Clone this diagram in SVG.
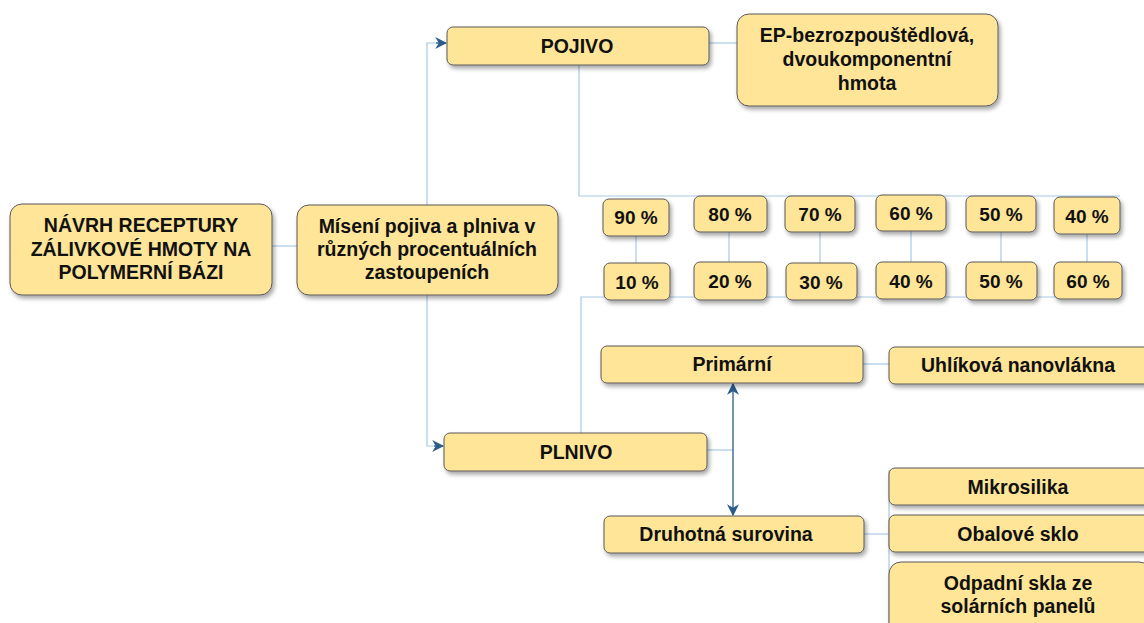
<svg xmlns="http://www.w3.org/2000/svg" width="1144" height="623" viewBox="0 0 1144 623">
  <defs>
    <filter id="shadow" x="-10%" y="-20%" width="130%" height="160%">
      <feDropShadow dx="2" dy="3" stdDeviation="2" flood-color="#000" flood-opacity="0.35"/>
    </filter>
    <marker id="arrow" viewBox="0 0 10 10" refX="9" refY="5" markerWidth="12" markerHeight="12" markerUnits="userSpaceOnUse" orient="auto-start-reverse">
      <path d="M0,0 L10,5 L0,10 L3,5 z" fill="#2B5C8A"/>
    </marker>
    <style>
      .box { fill: #FFE597; stroke: #5A5A5A; stroke-width: 1; filter: url(#shadow); }
      .t { font-family: "Liberation Sans", Arial, sans-serif; font-weight: bold; font-size: 19.5px; fill: #111; text-anchor: middle; }
      .pc { font-size: 19px; }
      .link { fill: none; stroke: #A9C9E8; stroke-width: 1.2; }
      .arr { fill: none; stroke: #2B5C8A; stroke-width: 1.3; }
    </style>
  </defs>

  <rect width="1144" height="623" fill="#fff"/>

  <!-- connectors -->
  <g id="connectors">
    <line class="link" x1="272" y1="246" x2="297" y2="246"/>
    <!-- Mísení to POJIVO / PLNIVO -->
    <path class="link" d="M427,205 V43 H438"/>
    <path class="arr" d="M436,43 H446" marker-end="url(#arrow)"/>
    <path class="link" d="M427,295 V446 H436"/>
    <path class="arr" d="M434,446 H443" marker-end="url(#arrow)"/>
    <!-- POJIVO to EP -->
    <line class="link" x1="709" y1="43" x2="737" y2="43"/>
    <!-- POJIVO to top percent row -->
    <path class="link" d="M579,65 V196 H1120"/>
    <!-- PLNIVO to bottom percent row -->
    <path class="link" d="M581,433 V297 H1120"/>
    <!-- percent pairs -->
    <line class="link" x1="636" y1="236" x2="636" y2="263"/>
    <line class="link" x1="729" y1="232" x2="729" y2="262"/>
    <line class="link" x1="820" y1="232" x2="820" y2="263"/>
    <line class="link" x1="911" y1="231" x2="911" y2="262"/>
    <line class="link" x1="1001" y1="232" x2="1001" y2="262"/>
    <line class="link" x1="1087" y1="234" x2="1087" y2="262"/>
    <!-- PLNIVO to Primární / Druhotná -->
    <line class="link" x1="707" y1="450" x2="733" y2="450"/>
    <line class="arr" x1="733" y1="450" x2="733" y2="384" marker-end="url(#arrow)"/>
    <line class="arr" x1="733" y1="450" x2="733" y2="515" marker-end="url(#arrow)"/>
    <!-- Primární to Uhlíková -->
    <line class="link" x1="863" y1="364" x2="889" y2="364"/>
    <!-- Druhotná to recycled materials -->
    <line class="link" x1="864" y1="534" x2="889" y2="534"/>
    <line class="link" x1="889" y1="470" x2="889" y2="623"/>
  </g>

  <g id="navrh">
    <rect class="box" x="10" y="204" width="262" height="91" rx="12"/>
    <text class="t" x="141" y="232">NÁVRH RECEPTURY</text>
    <text class="t" x="141" y="256">ZÁLIVKOVÉ HMOTY NA</text>
    <text class="t" x="141" y="279">POLYMERNÍ BÁZI</text>
  </g>

  <g id="miseni">
    <rect class="box" x="297" y="205" width="261" height="90" rx="12"/>
    <text class="t" x="427" y="233">Mísení pojiva a plniva v</text>
    <text class="t" x="427" y="256">různých procentuálních</text>
    <text class="t" x="427" y="279">zastoupeních</text>
  </g>

  <g id="pojivo">
    <rect class="box" x="447" y="27" width="262" height="38" rx="6"/>
    <text class="t" x="577" y="53">POJIVO</text>
  </g>

  <g id="ep">
    <rect class="box" x="737" y="14" width="261" height="92" rx="12"/>
    <text class="t" x="867" y="42">EP-bezrozpouštědlová,</text>
    <text class="t" x="867" y="66">dvoukomponentní</text>
    <text class="t" x="867" y="90">hmota</text>
  </g>

  <g id="p90"><rect class="box" x="603" y="199" width="66" height="37" rx="6"/><text class="t pc" x="636" y="224">90 %</text></g>
  <g id="p80"><rect class="box" x="694" y="196" width="73" height="36" rx="6"/><text class="t pc" x="730" y="221">80 %</text></g>
  <g id="p70"><rect class="box" x="785" y="196" width="70" height="36" rx="6"/><text class="t pc" x="820" y="221">70 %</text></g>
  <g id="p60"><rect class="box" x="876" y="195" width="70" height="36" rx="6"/><text class="t pc" x="911" y="220">60 %</text></g>
  <g id="p50"><rect class="box" x="966" y="196" width="70" height="36" rx="6"/><text class="t pc" x="1001" y="221">50 %</text></g>
  <g id="p40"><rect class="box" x="1054" y="197" width="66" height="37" rx="6"/><text class="t pc" x="1087" y="223">40 %</text></g>

  <g id="p10"><rect class="box" x="604" y="263" width="66" height="37" rx="6"/><text class="t pc" x="637" y="289">10 %</text></g>
  <g id="p20"><rect class="box" x="694" y="262" width="73" height="38" rx="6"/><text class="t pc" x="730" y="288">20 %</text></g>
  <g id="p30"><rect class="box" x="786" y="263" width="71" height="37" rx="6"/><text class="t pc" x="821" y="289">30 %</text></g>
  <g id="p40b"><rect class="box" x="876" y="262" width="70" height="37" rx="6"/><text class="t pc" x="911" y="288">40 %</text></g>
  <g id="p50b"><rect class="box" x="966" y="262" width="71" height="38" rx="6"/><text class="t pc" x="1001" y="288">50 %</text></g>
  <g id="p60b"><rect class="box" x="1054" y="262" width="68" height="37" rx="6"/><text class="t pc" x="1088" y="288">60 %</text></g>

  <g id="plnivo">
    <rect class="box" x="444" y="433" width="263" height="38" rx="6"/>
    <text class="t" x="576" y="459">PLNIVO</text>
  </g>

  <g id="primarni">
    <rect class="box" x="601" y="346" width="262" height="37" rx="6"/>
    <text class="t" x="732" y="371">Primární</text>
  </g>

  <g id="uhlikova">
    <rect class="box" x="889" y="347" width="262" height="37" rx="6"/>
    <text class="t" x="1018" y="372">Uhlíková nanovlákna</text>
  </g>

  <g id="druhotna">
    <rect class="box" x="604" y="516" width="260" height="37" rx="6"/>
    <text class="t" x="726" y="541">Druhotná surovina</text>
  </g>

  <g id="mikrosilika">
    <rect class="box" x="889" y="468" width="262" height="37" rx="6"/>
    <text class="t" x="1018" y="494">Mikrosilika</text>
  </g>

  <g id="obalove">
    <rect class="box" x="889" y="515" width="262" height="37" rx="6"/>
    <text class="t" x="1018" y="541">Obalové sklo</text>
  </g>

  <g id="odpadni">
    <rect class="box" x="889" y="562" width="262" height="80" rx="12"/>
    <text class="t" x="1018" y="590">Odpadní skla ze</text>
    <text class="t" x="1018" y="613">solárních panelů</text>
  </g>
</svg>
